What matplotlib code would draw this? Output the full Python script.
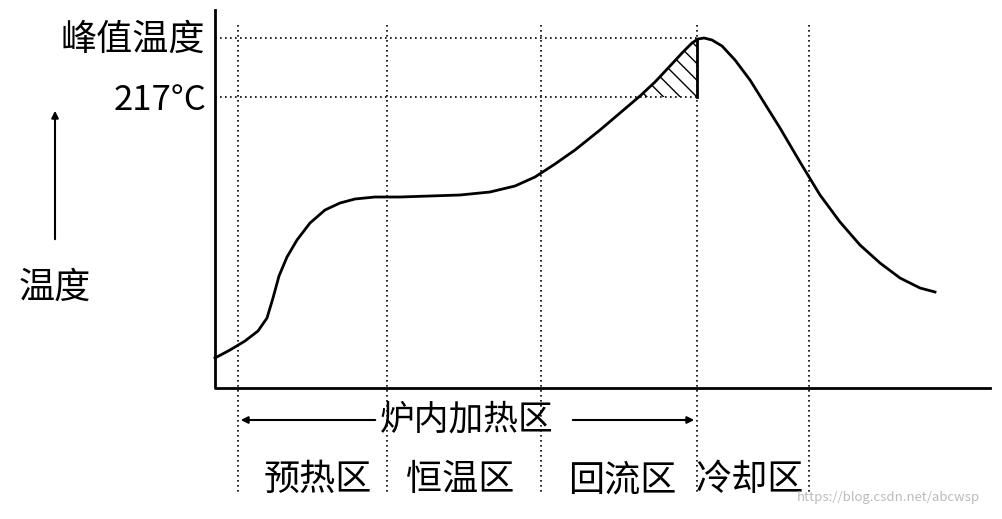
import numpy as np
import matplotlib.pyplot as plt

plt.rcParams['font.family'] = ['Noto Sans CJK SC', 'DejaVu Sans']

# curve points (pixel-like coords, y grows downward)
curve_x = [215, 230, 245, 258, 267, 273, 279, 287, 297, 310, 325, 340, 355, 375, 400,
           430, 460, 490, 515, 535, 555, 575, 600, 620, 640, 655, 670, 683, 692, 698,
           704, 712, 722, 735, 750, 765, 780, 800, 820, 840, 860, 880, 900, 920, 935]
curve_y = [358, 350, 341, 331, 318, 298, 276, 257, 240, 223, 210, 203, 199, 197, 197,
           196, 195, 192, 186, 177, 164, 150, 130, 113, 96, 82, 66, 52, 43, 39,
           38, 40, 46, 60, 80, 104, 128, 162, 195, 222, 245, 263, 278, 288, 292]
zone_x = [238, 387, 541, 697, 809]
zone_names = ['预热区', '恒温区', '回流区', '冷却区']
zone_label_x = [318, 460, 622, 750]
peak_y, melt_y = 38, 97

fig = plt.figure(figsize=(10.02, 5.19), dpi=100)
ax = fig.add_axes([0, 0, 1, 1])
ax.set_xlim(0, 1002)
ax.set_ylim(519, 0)
ax.axis('off')

dot = dict(color='black', lw=1.2, ls=(0, (1, 2)))

# axes lines
ax.plot([215, 215, 990], [10, 388, 388], color='black', lw=2)
ax.plot(curve_x, curve_y, color='black', lw=2)

for x in zone_x:
    ax.plot([x, x], [25, 495], **dot)
ax.plot([215, 697], [peak_y, peak_y], **dot)
ax.plot([215, 697], [melt_y, melt_y], **dot)

# hatched region above 217C
cx = np.array(curve_x, float)
cy = np.array(curve_y, float)
xs = np.linspace(640, 697, 50)
ys = np.interp(xs, cx, cy)
ax.fill_between(xs, ys, melt_y, facecolor='none', edgecolor='black', hatch='\\\\', lw=0)
ax.plot([697, 697], [40, melt_y], color='black', lw=2)

ax.text(133, 40, '峰值温度', fontsize=26, ha='center', va='center')
ax.text(160, 100, '217°C', fontsize=25, ha='center', va='center')
ax.annotate('', xy=(55, 108), xytext=(55, 242),
            arrowprops=dict(arrowstyle='-|>', color='black', lw=1.5))
ax.text(55, 288, '温度', fontsize=26, ha='center', va='center')

ax.annotate('', xy=(238, 420), xytext=(378, 420),
            arrowprops=dict(arrowstyle='-|>', color='black', lw=1.5))
ax.annotate('', xy=(697, 420), xytext=(570, 420),
            arrowprops=dict(arrowstyle='-|>', color='black', lw=1.5))
ax.text(467, 420, '炉内加热区', fontsize=25, ha='center', va='center')

for lx, name in zip(zone_label_x, zone_names):
    ax.text(lx, 480, name, fontsize=26, ha='center', va='center')

ax.text(888, 497, 'https://blog.csdn.net/abcwsp', fontsize=9.5, color='#bbbbbb',
        ha='center', va='center')

fig.savefig('out.png', dpi=100)
